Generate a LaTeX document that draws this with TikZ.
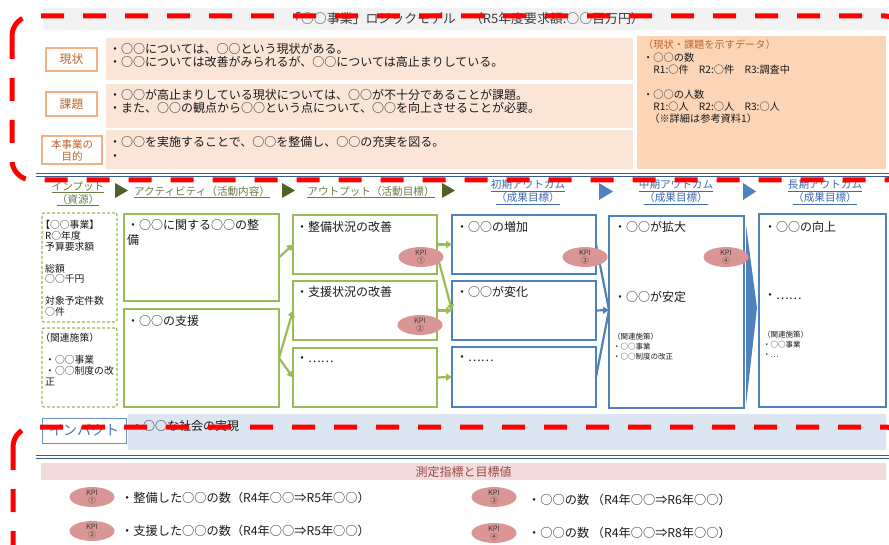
\documentclass[tikz,border=0pt]{standalone}
\usepackage{fontspec}
\setmainfont{Noto Sans CJK JP}
\usetikzlibrary{shapes.geometric,arrows.meta,calc}
\definecolor{gborder}{HTML}{9BBB59}
\definecolor{bborder}{HTML}{4F81BD}
\definecolor{olivet}{HTML}{4F6228}
\definecolor{peach}{HTML}{FBE5D6}
\definecolor{peachd}{HTML}{FBD5B5}
\definecolor{orangeb}{HTML}{F4B183}
\definecolor{brownt}{HTML}{B9652E}
\definecolor{hdrgray}{HTML}{F2F2F2}
\definecolor{lblue}{HTML}{DCE6F2}
\definecolor{lpink}{HTML}{F2DCDB}
\definecolor{pinkt}{HTML}{9C4A47}
\definecolor{kpifill}{HTML}{D99694}
\definecolor{dblue}{HTML}{385D8A}
\definecolor{gtext}{HTML}{6B7B45}
\definecolor{btext}{HTML}{3D6AB0}
\definecolor{ink}{HTML}{1A1A1A}
\definecolor{impb}{HTML}{6C8EBF}
\definecolor{impt}{HTML}{4472C4}
\newcommand\fs[2]{\fontsize{#1}{#2}\selectfont}
\newcommand\tlines[6][]{\foreach \lineT [count=\i] in {#6}{\node[tl,#1] (#2\i) at (#3,{#4+(\i-1)*#5}) {\lineT};}}
\begin{document}
\begin{tikzpicture}[x=1pt,y=-1pt,
 tl/.style={anchor=base west,inner sep=0pt,text=ink},
 bx/.style={anchor=north west,inner sep=0pt,outer sep=0pt},
 gbox/.style={bx,draw=gborder,line width=2.2pt,fill=white},
 bbox/.style={bx,draw=bborder,line width=2.2pt,fill=white},
 ibox/.style={bx,draw=gborder,line width=1.3pt,dash pattern=on 3pt off 2pt,rounded corners=2pt},
 lab/.style={bx,draw=orangeb,line width=1.2pt,fill=white,text=brownt,align=center},
 kpi/.style={ellipse,fill=kpifill,inner sep=0pt,minimum width=45pt,minimum height=17pt,align=center,font=\fs{7.4}{8},text=ink!85},
 garrow/.style={draw=gborder,line width=2.2pt,-{Triangle[length=6pt,width=7pt]}},
 barrow/.style={draw=bborder,line width=2.2pt},
 reddash/.style={draw=red,line width=5pt,dash pattern=on 23pt off 19pt,rounded corners=20pt},
 hg/.style={anchor=center,inner sep=0pt,text=gtext,font=\fs{10.6}{12}},
 hb/.style={hg,text=btext},
 mainf/.style={font=\fs{12}{14}},
]
\useasboundingbox (0,0) rectangle (889,545);
\fill[white] (0,0) rectangle (889,545);

% header
\node[bx,fill=hdrgray,minimum width=845,minimum height=22] (hdr) at (43,8) {};
\node[anchor=base,inner sep=0pt,text=ink!85,font=\fs{12.9}{14}] (title) at (466,23.8) {「○○事業」ロジックモデル\hspace{1.1em}（R5年度要求額:○○百万円）};

% top rows
\node[bx,fill=peach,minimum width=527,minimum height=42] (c1) at (106,38) {};
\node[bx,fill=peach,minimum width=527,minimum height=44] (c2) at (106,84) {};
\node[bx,fill=peach,minimum width=527,minimum height=39] (c3) at (106,130) {};
\node[bx,fill=peachd,minimum width=249,minimum height=133] (dat) at (637,36) {};
\node[lab,minimum width=51,minimum height=23,font=\fs{11.8}{14}] (lab1) at (46,48) {現状};
\node[lab,minimum width=51,minimum height=24,font=\fs{11.8}{14}] (lab2) at (46,92) {課題};
\node[lab,minimum width=60,minimum height=28,font=\fs{10.5}{12}] (lab3) at (42,136) {本事業の\\目的};

\tlines[mainf]{ct1-}{109}{53.5}{13}{・○○については、○○という現状がある。,・○○については改善がみられるが、○○については高止まりしている。}
\tlines[mainf]{ct2-}{109}{99.5}{13}{・○○が高止まりしている現状については、○○が不十分であることが課題。,・また、○○の観点から○○という点について、○○を向上させることが必要。}
\tlines[mainf]{ct3-}{109}{146.5}{14}{・○○を実施することで、○○を整備し、○○の充実を図る。,・}
\tlines[font=\fs{10.2}{12}]{dt-}{643}{48.9}{12.33}{{\color{brownt}（現状・課題を示すデータ）},・○○の数,　R1:○件　R2:○件　R3:調査中,,・○○の人数,　R1:○人　R2:○人　R3:○人,\hspace{0.6em}（※詳細は参考資料1）}

% separators
\draw[dblue,line width=0.9pt] (36,173.5) -- (889,173.5);
\draw[dblue,line width=0.9pt] (36,176.5) -- (889,176.5);
\draw[dblue,line width=0.9pt] (36,455.5) -- (889,455.5);
\draw[dblue,line width=0.9pt] (36,458.5) -- (889,458.5);

% column headers
\node[hg] (h1a) at (78,187) {\underline{インプット}};
\node[hg] (h1b) at (78,200) {\underline{（資源）}};
\fill[olivet] (115,183) -- (128,190.5) -- (115,198) -- cycle;
\node[hg] (h2) at (202,192) {\underline{アクティビティ（活動内容）}};
\fill[olivet] (282,183) -- (295,190.5) -- (282,198) -- cycle;
\node[hg] (h3) at (371,192) {\underline{アウトプット（活動目標）}};
\fill[olivet] (442,183) -- (455,190.5) -- (442,198) -- cycle;
\node[hb] (h4a) at (528,185.5) {\underline{初期アウトカム}};
\node[hb] (h4b) at (528,198.5) {\underline{（成果目標）}};
\fill[bborder] (599,183) -- (613,191.5) -- (599,200) -- cycle;
\node[hb] (h5a) at (676,185.5) {\underline{中期アウトカム}};
\node[hb] (h5b) at (676,198.5) {\underline{（成果目標）}};
\fill[bborder] (743,183) -- (756,191.5) -- (743,200) -- cycle;
\node[hb] (h6a) at (825,185.5) {\underline{長期アウトカム}};
\node[hb] (h6b) at (825,198.5) {\underline{（成果目標）}};

% input boxes
\node[ibox,minimum width=75,minimum height=109] (in1) at (42,213) {};
\node[ibox,minimum width=75,minimum height=79] (in2) at (42,328) {};
\tlines[font=\fs{9.8}{11}]{it-}{45}{228.7}{10.85}{\kern-0.5em【○○事業】,R○年度,予算要求額,,総額,○○千円,,対象予定件数,○件}
\tlines[font=\fs{9.8}{11}]{iu-}{45}{341.6}{10.85}{\kern-0.5em（関連施策）,,・○○事業,・○○制度の改,正}

% activity / output / outcome boxes
\node[gbox,minimum width=155,minimum height=87] (a1) at (124,214) {};
\node[gbox,minimum width=155,minimum height=98] (a2) at (124,309) {};
\node[gbox,minimum width=144,minimum height=59] (o1) at (293,215) {};
\node[gbox,minimum width=144,minimum height=59] (o2) at (293,281) {};
\node[gbox,minimum width=144,minimum height=59] (o3) at (293,348) {};
\node[bbox,minimum width=144,minimum height=59] (i1) at (452,215) {};
\node[bbox,minimum width=144,minimum height=59] (i2) at (452,281) {};
\node[bbox,minimum width=144,minimum height=60] (i3) at (452,347) {};
\node[bbox,minimum width=135,minimum height=192] (mid) at (609,216) {};
\node[bbox,minimum width=127,minimum height=193] (lng) at (759,214) {};

\tlines[mainf]{at-}{127}{229.6}{15}{・○○に関する○○の整,備}
\node[tl,mainf] (bt) at (127,325.6) {・○○の支援};
\node[tl,mainf] (ot1) at (296,231.6) {・整備状況の改善};
\node[tl,mainf] (ot2) at (296,296.6) {・支援状況の改善};
\node[tl,mainf] (ot3) at (296,362.6) {・……};
\node[tl,mainf] (pt1) at (456,231.6) {・○○の増加};
\node[tl,mainf] (pt2) at (456,296.6) {・○○が変化};
\node[tl,mainf] (pt3) at (456,361.6) {・……};
\node[tl,mainf] (mt1) at (614,231.6) {・○○が拡大};
\node[tl,mainf] (mt2) at (614,301.6) {・○○が安定};
\tlines[font=\fs{7.5}{9}]{ms-}{613}{339.8}{10}{（関連施策）,・○○事業,・○○制度の改正}
\node[tl,mainf] (lt1) at (764,231.6) {・○○の向上};
\node[tl,mainf] (lt2) at (764,299.6) {・……};
\tlines[font=\fs{7.5}{9}]{ls-}{763}{337.8}{10}{（関連施策）,・○○事業,・…}

% connectors
\draw[garrow] (a1.east) -- (o1.west);
\draw[garrow] (a2.east) -- (o2.west);
\draw[garrow] (a2.east) -- (o3.west);
\draw[garrow] (o1.east) -- (i1.west);
\draw[garrow] ($(o1.east)+(0,10)$) -- (i2.west);
\draw[garrow] (o2.east) -- (i2.west);
\draw[garrow] (o3.east) -- (i3.west);
\draw[barrow] (i1.east) -- ($(mid.west)+(0,-2)$);
\draw[barrow] (i3.east) -- ($(mid.west)+(0,-2)$);
\draw[barrow,-{Triangle[length=6pt,width=7pt]}] (i2.east) -- ($(mid.west)+(0,-2)$);
\fill[bborder] ($(mid.north east)+(2,9)$) -- ($(mid.east)+(13,-4)$) -- ($(mid.south east)+(2,-3)$) -- cycle;

% KPI marks
\node[kpi] (k1) at (421,257) {KPI\\①};
\node[kpi] (k2) at (420,325) {KPI\\②};
\node[kpi] (k3) at (585,257) {KPI\\③};
\node[kpi] (k4) at (726,257) {KPI\\④};

% impact
\node[bx,fill=lblue,minimum width=758,minimum height=36] (band) at (128,414) {};
\node[bx,draw=impb,line width=1pt,fill=white,minimum width=84,minimum height=25,text=impt,font=\fs{14}{16}] (imp) at (42,418) {インパクト};
\node[tl,mainf] (impt) at (131,430.5) {・○○な社会の実現};

% measures
\node[bx,fill=lpink,minimum width=845,minimum height=17] (pband) at (41,463) {};
\node[anchor=center,inner sep=0pt,text=pinkt,font=\fs{12}{14}] (ptitle) at (pband.center) {測定指標と目標値};
\node[kpi,minimum height=18] (kb1) at (92,497) {KPI\\①};
\node[kpi,minimum height=18] (kb2) at (92,531) {KPI\\②};
\node[kpi,minimum height=18] (kb3) at (494,497) {KPI\\③};
\node[kpi,minimum height=18] (kb4) at (494,533) {KPI\\④};
\node[tl,font=\fs{12.2}{14}] (m1) at (121,502.5) {・整備した○○の数（R4年○○⇒R5年○○）};
\node[tl,font=\fs{12.2}{14}] (m2) at (121,535.5) {・支援した○○の数（R4年○○⇒R5年○○）};
\node[tl,font=\fs{12.2}{14}] (m3) at (528,504) {・○○の数 （R4年○○⇒R6年○○）};
\node[tl,font=\fs{12.2}{14}] (m4) at (528,537) {・○○の数 （R4年○○⇒R8年○○）};

% red dashed overlays
\draw[reddash] (12,16) rectangle (905,180);
\draw[reddash] (13,427) rectangle (905,570);
\end{tikzpicture}
\end{document}
